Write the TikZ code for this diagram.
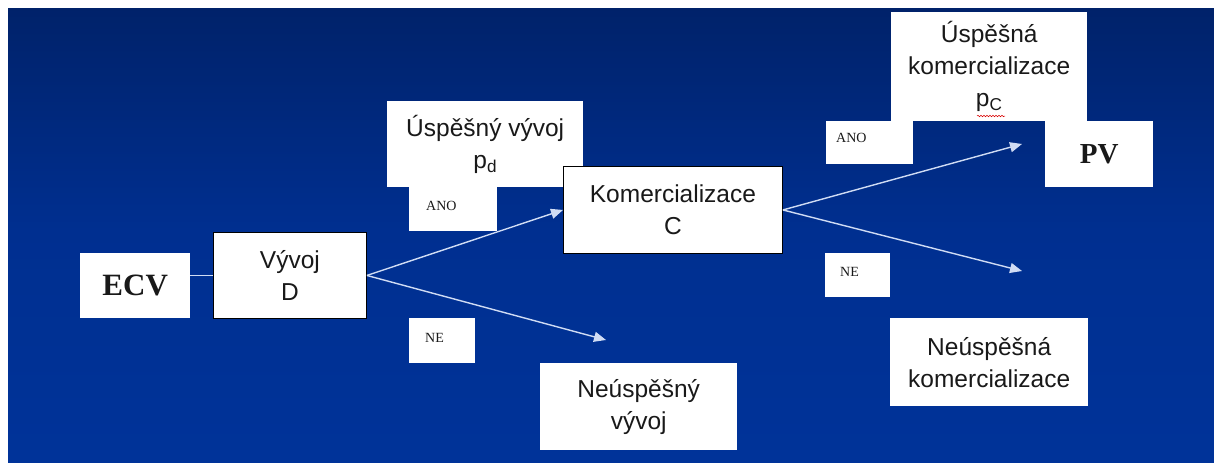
\documentclass[tikz,border=0pt]{standalone}
\usepackage{fontspec}
\setmainfont{Liberation Serif}
\setsansfont{Liberation Sans}
\usetikzlibrary{arrows.meta, positioning, decorations.pathmorphing}

\definecolor{slidetop}{RGB}{0,34,106}
\definecolor{slidemid}{RGB}{0,47,144}
\definecolor{slidebot}{RGB}{0,51,153}
\definecolor{linkline}{RGB}{208,220,244}
\definecolor{ink}{RGB}{25,25,25}

\tikzset{
	box/.style={fill=white, inner sep=0pt, anchor=north west, align=center, text=ink,
		font=\sffamily\fontsize{24.5}{32}\selectfont},
	framed/.style={box, draw=black, line width=0.9pt},
	boldbox/.style={box, font=\rmfamily\bfseries\fontsize{29}{32}\selectfont},
	tag/.style={fill=white, inner ysep=0pt, anchor=north west, align=left, text=ink,
		font=\rmfamily\fontsize{14}{16}\selectfont},
	link/.style={draw=linkline, line width=1.4pt},
	arr/.style={link, -{Triangle[length=12pt, width=10pt]}},
}

\begin{document}
\begin{tikzpicture}[x=1pt, y=-1pt]
	% slide background
	\useasboundingbox (0,0) rectangle (1214,463);
	\fill[white] (0,0) rectangle (1214,463);
	\shade[top color=slidetop, bottom color=slidemid] (8,8) rectangle (1214,230);
	\shade[top color=slidemid, bottom color=slidebot] (8,229.5) rectangle (1214,462);

	% decision boxes
	\node[boldbox, minimum width=110pt, minimum height=65pt, font=\rmfamily\bfseries\fontsize{31}{32}\selectfont] (ecv) at (80,253) {ECV};
	\node[framed, minimum width=153pt, minimum height=86pt] (dev) at (213,232) {Vývoj\\D};
	\node[box, minimum width=196pt, minimum height=86pt] (okdev) at (387,101) {Úspěšný vývoj\\p\textsubscript{d}};
	\node[box, minimum width=197pt, minimum height=87pt] (faildev) at (540,363) {Neúspěšný\\vývoj};
	\node[framed, minimum width=219pt, minimum height=87pt] (com) at (563,166) {Komercializace\\C};
	\node[box, minimum width=196pt, minimum height=109pt] (okcom) at (891,12) {Úspěšná\\komercializace\\p\textsubscript{C}};
	\node[boldbox, minimum width=108pt, minimum height=66pt] (pv) at (1045,121) {PV};
	\node[box, minimum width=198pt, minimum height=88pt] (failcom) at (890,318) {Neúspěšná\\komercializace};

	% spell check mark under p_C
	\draw[red!85!black, line width=0.5pt, decorate, decoration={snake, amplitude=0.7pt, segment length=3pt}]
		(977,116) -- (1005,116);

	% ano / ne labels
	\node[tag, inner xsep=17pt, text width=54pt, text height=23pt, text depth=21pt] (ano1) at (409,187) {ANO};
	\node[tag, inner xsep=16pt, text width=34pt, text height=24pt, text depth=21pt] (ne1) at (409,318) {NE};
	\node[tag, inner xsep=10pt, text width=67pt, text height=21pt, text depth=22pt] (ano2) at (826,121) {ANO};
	\node[tag, inner xsep=15pt, text width=35pt, text height=23pt, text depth=21pt] (ne2) at (825,253) {NE};

	% free arrow ends
	\coordinate (devno) at (606,340);
	\coordinate (comyes) at (1022,144);
	\coordinate (comno) at (1022,271);

	% connectors
	\draw[link] (ecv.east |- dev.west) -- (dev.west);
	\draw[arr] (dev.east) -- (com.west);
	\draw[arr] (dev.east) -- (devno);
	\draw[arr] (com.east) -- (comyes);
	\draw[arr] (com.east) -- (comno);
\end{tikzpicture}
\end{document}
